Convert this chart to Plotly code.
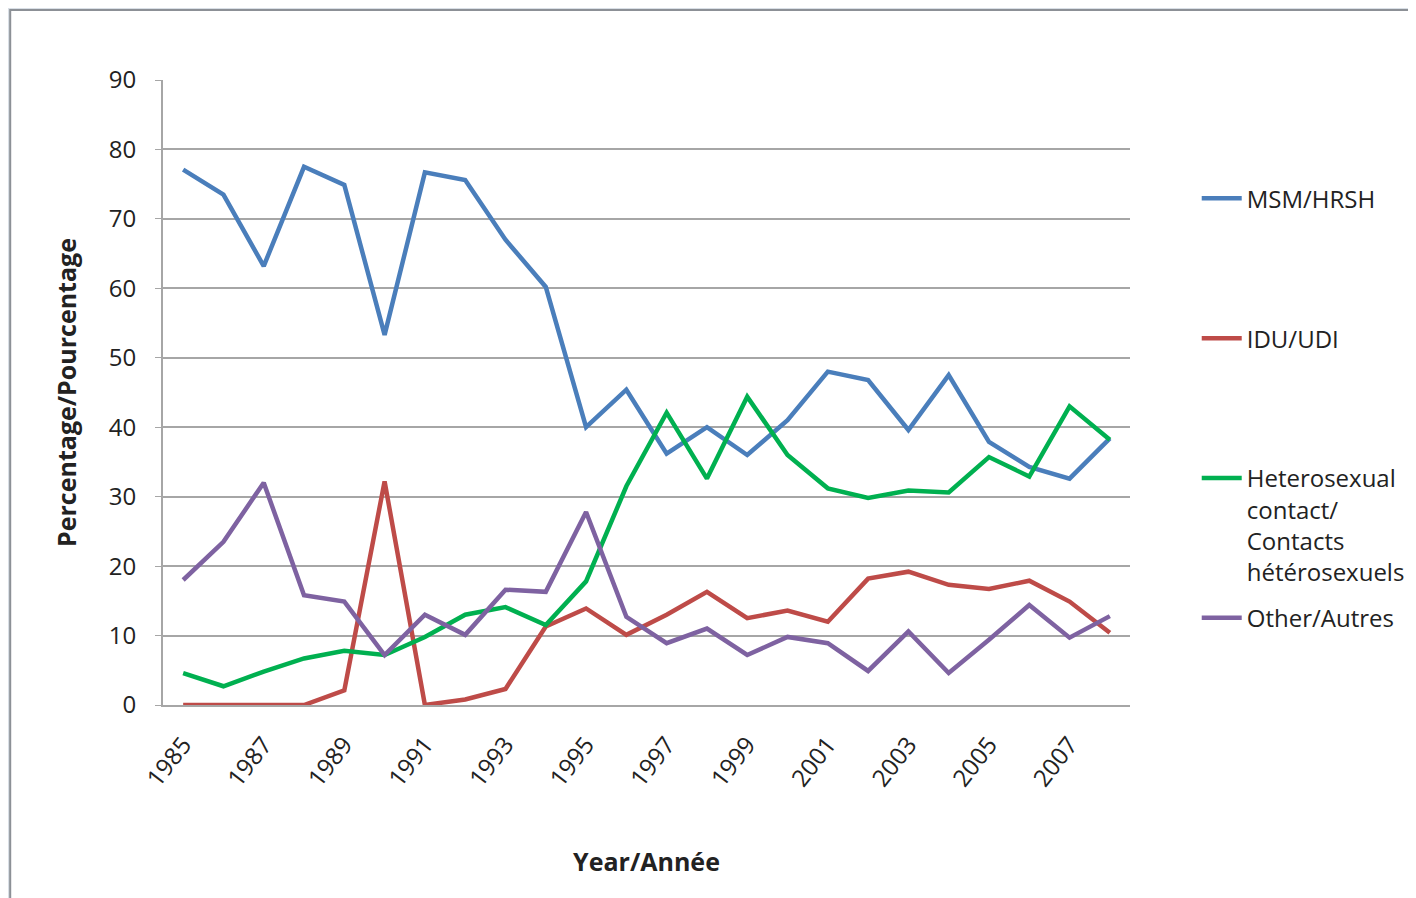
import plotly.graph_objects as go

years = list(range(1985, 2009))

msm = [77.1, 73.5, 63.2, 77.5, 74.9, 53.3, 76.7, 75.6, 67.0, 60.2, 40.0, 45.4,
       36.2, 40.0, 36.0, 41.0, 48.0, 46.8, 39.6, 47.5, 37.9, 34.3, 32.6, 38.4]
idu = [0, 0, 0, 0, 2.1, 32.2, 0, 0.8, 2.3, 11.3, 13.9, 10.1,
       13.0, 16.3, 12.5, 13.6, 12.0, 18.2, 19.2, 17.3, 16.7, 17.9, 14.9, 10.4]
hetero = [4.6, 2.7, 4.8, 6.7, 7.8, 7.2, 9.8, 13.0, 14.1, 11.5, 17.8, 31.5,
          42.1, 32.6, 44.4, 36.0, 31.2, 29.8, 30.9, 30.6, 35.7, 32.9, 43.0, 38.2]
other = [18.0, 23.5, 32.0, 15.8, 14.9, 7.2, 13.0, 10.1, 16.6, 16.3, 27.8, 12.7,
         8.9, 11.0, 7.2, 9.8, 8.9, 4.9, 10.6, 4.6, 9.4, 14.4, 9.7, 12.8]

names = ['MSM/HRSH<br> <br> <br> ',
         'IDU/UDI<br> <br> <br> ',
         'Heterosexual<br>contact/<br>Contacts<br>hétérosexuels',
         'Other/Autres']
colors = ['#4A7EBB', '#BE4B48', '#00B050', '#7E62A1']
series = [msm, idu, hetero, other]

fig = go.Figure()
for i, (s, n, c) in enumerate(zip(series, names, colors)):
    fig.add_trace(go.Scatter(x=years, y=s, mode='lines', name=n,
                             legendgroup=f'g{i}',
                             line=dict(color=c, width=4.5)))

# white panel over the grey page background
fig.add_shape(type='rect', xref='paper', yref='paper',
              x0=-0.158, x1=1.35, y0=-0.4, y1=1.112,
              fillcolor='white', line=dict(color='#8c9096', width=2),
              layer='below')

font = 'Open Sans, Liberation Sans, sans-serif'

# the page has an 8px body margin, so margins are shifted to compensate
fig.update_layout(
    width=1416, height=898,
    margin=dict(l=155, r=294, t=72, b=201, autoexpand=False),
    paper_bgcolor='#d9dfe6',
    plot_bgcolor='rgba(0,0,0,0)',
    font=dict(family=font, color='#222222'),
    showlegend=True,
    legend=dict(x=1.069, xanchor='left', y=0.846, yanchor='top',
                font=dict(size=24, color='#222222'),
                valign='top', tracegroupgap=12, itemwidth=40,
                bgcolor='rgba(0,0,0,0)'),
)

fig.update_xaxes(range=[1984.5, 2008.5], tick0=1985, dtick=2,
                 tickangle=-52, tickfont=dict(size=24),
                 showgrid=False, showline=True, linecolor='#a6a6a6', linewidth=2,
                 ticks='', zeroline=False, ticklabelstandoff=14,
                 title=dict(text='<b>Year/Année</b>', font=dict(size=25), standoff=62))
fig.update_yaxes(range=[0, 90], dtick=10, tickfont=dict(size=24),
                 showgrid=True, gridcolor='#a6a6a6', gridwidth=2,
                 showline=True, linecolor='#a6a6a6', linewidth=2,
                 ticks='outside', ticklen=6, tickcolor='#a6a6a6',
                 ticklabelstandoff=14, zeroline=False,
                 title=dict(text='<b>Percentage/Pourcentage</b>', font=dict(size=25), standoff=25))

fig.write_html("out.html")
